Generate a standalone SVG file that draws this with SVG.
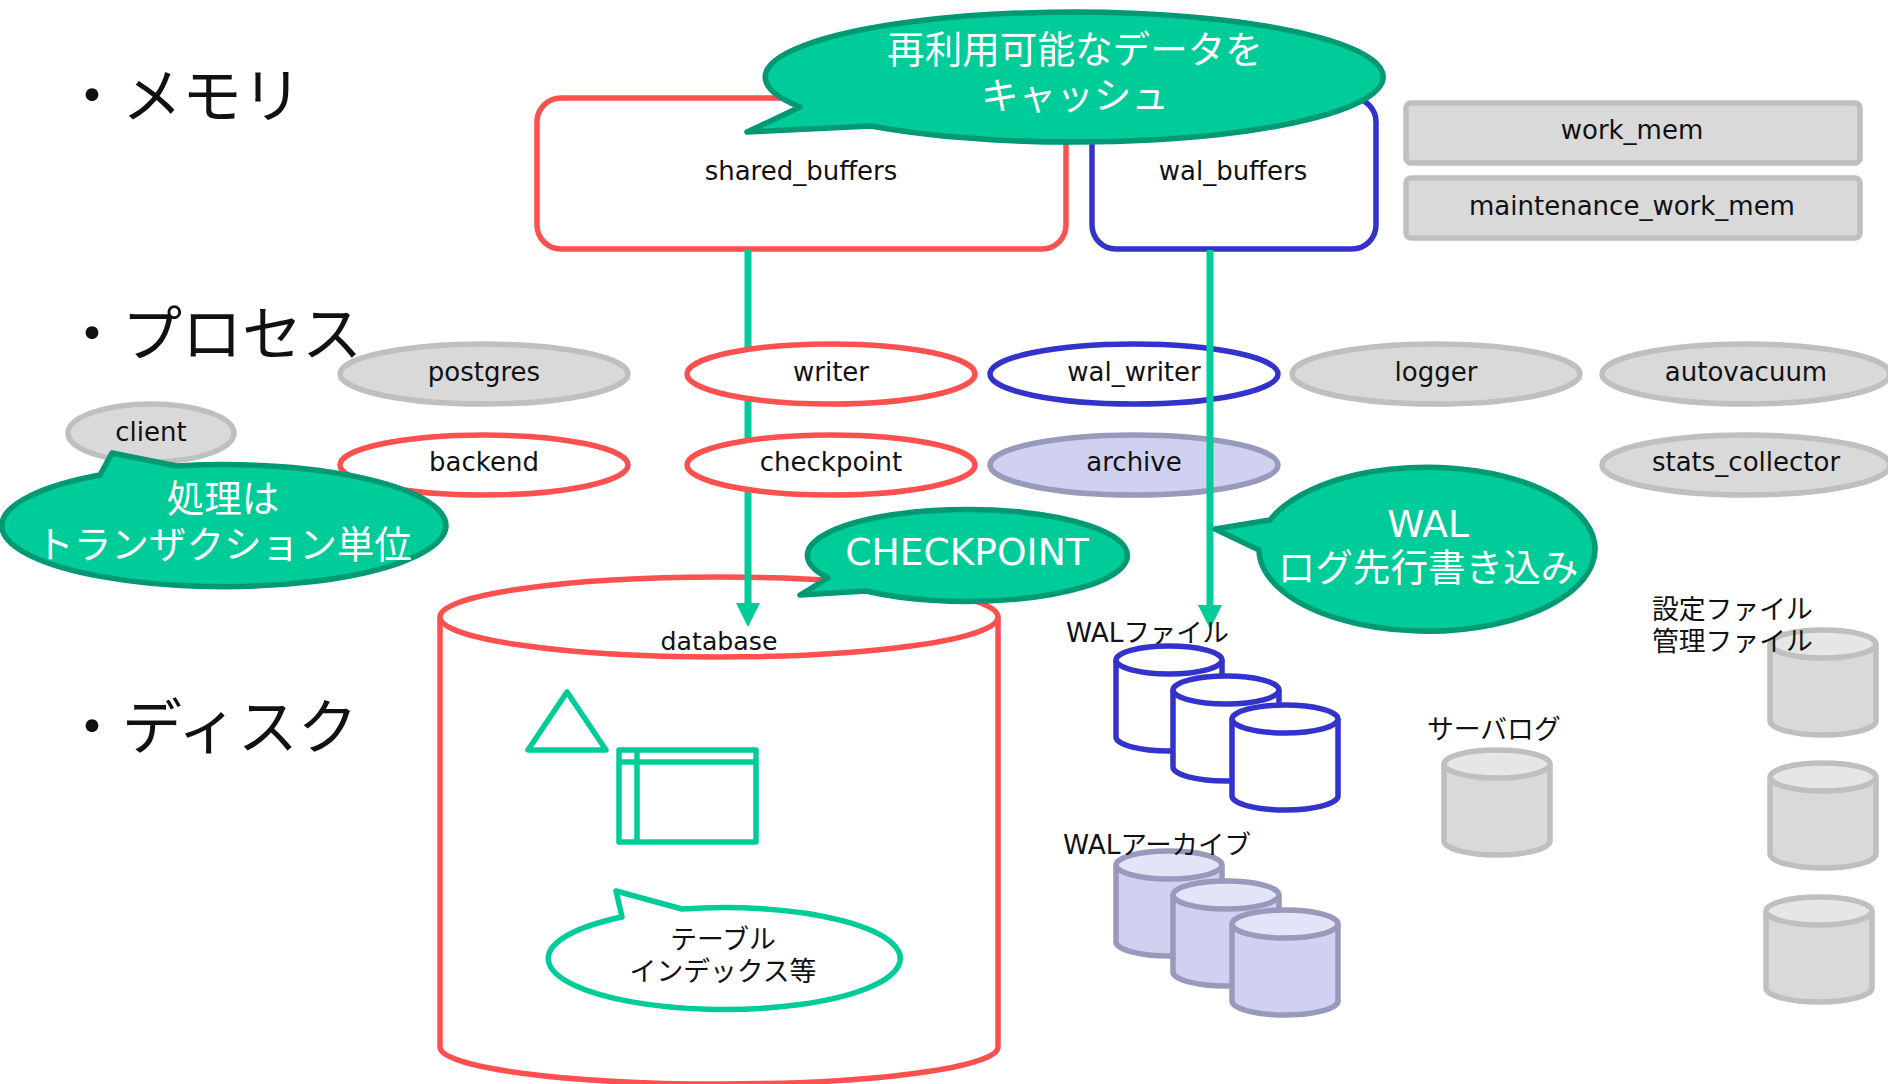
<svg xmlns="http://www.w3.org/2000/svg" width="1888" height="1084" viewBox="0 0 1888 1084">
<style>
text{font-family:"DejaVu Sans","Noto Sans CJK JP",sans-serif;fill:#111;font-size:26px}
.jp{font-family:"Noto Sans CJK JP",sans-serif;font-size:26.8px}
.m{text-anchor:middle}
.mix{font-size:26.4px}
.title{font-family:"Noto Sans CJK JP",sans-serif;font-size:60px}
.w{fill:#fff;font-size:37.6px;text-anchor:middle}
.red{fill:#fff;stroke:#ff5050;stroke-width:5.5}
.blue{fill:#fff;stroke:#3333cc;stroke-width:5.5}
.gray{fill:#d9d9d9;stroke:#bfbfbf;stroke-width:5.5}
.arch{fill:#d0d0f0;stroke:#9999bb;stroke-width:5.5}
.call{fill:#00cc99;stroke:#009973;stroke-width:5.5;stroke-linejoin:round}
.out{fill:#fff;stroke:#00cc99;stroke-width:5.5;stroke-linejoin:round}
.tbl{fill:none;stroke:#00cc99;stroke-width:5.5;stroke-linejoin:round}
.conn{stroke:#00cc99;stroke-width:7;fill:none}
.t2{fill:#e6e6e6}.t3{fill:#e4e4f8}
</style>
<defs>
<path id="body" d="M0 14V91A53 14 0 0 0 106 91V14"/>
<marker id="arr" markerUnits="userSpaceOnUse" markerWidth="26" markerHeight="26" refX="0" refY="13" orient="auto"><path d="M0 1L24 13L0 25Z" fill="#00cc99"/></marker>
</defs>

<g id="title-memory"><text class="title" x="62" y="118">・メモリ</text></g>
<g id="title-process"><text class="title" x="62" y="356">・プロセス</text></g>
<g id="title-disk"><text class="title" x="62" y="749">・ディスク</text></g>

<g id="shared_buffers"><rect class="red" x="537" y="98" width="529" height="151" rx="24"/><text class="m" x="801" y="180">shared_buffers</text></g>
<g id="wal_buffers"><rect class="blue" x="1092" y="98" width="284" height="151" rx="24"/><text class="m" x="1233" y="180">wal_buffers</text></g>
<g id="work_mem"><rect class="gray" x="1406" y="103" width="454" height="60" rx="5"/><text class="m" x="1632" y="139">work_mem</text></g>
<g id="maintenance_work_mem"><rect class="gray" x="1406" y="178" width="454" height="60" rx="5"/><text class="m" x="1632" y="215">maintenance_work_mem</text></g>

<g id="database">
<path class="red" d="M440 617V1047A279 37 0 0 0 998 1047V617"/>
<ellipse class="red" cx="719" cy="617" rx="279" ry="40"/>
<text class="m" x="719" y="650" style="font-size:25.2px">database</text>
</g>
<g id="index-shape"><path class="tbl" d="M567 692L528 750H606Z"/></g>
<g id="table-shape"><rect class="tbl" x="619" y="750" width="137" height="92"/><path class="tbl" d="M619 762H756M637 750V842"/></g>

<g id="wal_writer"><ellipse class="blue" cx="1134" cy="374" rx="144" ry="30"/><text class="m" x="1134" y="381">wal_writer</text></g>
<g id="archive"><ellipse class="arch" cx="1134" cy="465" rx="144" ry="30"/><text class="m" x="1134" y="471">archive</text></g>

<g id="connectors">
<path class="conn" d="M748 250V603" marker-end="url(#arr)"/>
<path class="conn" d="M1210 250V605" marker-end="url(#arr)"/>
</g>

<g id="postgres"><ellipse class="gray" cx="484" cy="374" rx="144" ry="30"/><text class="m" x="484" y="381">postgres</text></g>
<g id="writer"><ellipse class="red" cx="831" cy="374" rx="144" ry="30"/><text class="m" x="831" y="381">writer</text></g>
<g id="logger"><ellipse class="gray" cx="1436" cy="374" rx="144" ry="30"/><text class="m" x="1436" y="381">logger</text></g>
<g id="autovacuum"><ellipse class="gray" cx="1746" cy="374" rx="144" ry="30"/><text class="m" x="1746" y="381">autovacuum</text></g>
<g id="client"><ellipse class="gray" cx="151" cy="433" rx="83" ry="29"/><text class="m" x="151" y="441">client</text></g>
<g id="backend"><ellipse class="red" cx="484" cy="465" rx="144" ry="30"/><text class="m" x="484" y="471">backend</text></g>
<g id="checkpoint"><ellipse class="red" cx="831" cy="465" rx="144" ry="30"/><text class="m" x="831" y="471">checkpoint</text></g>
<g id="stats_collector"><ellipse class="gray" cx="1746" cy="465" rx="144" ry="30"/><text class="m" x="1746" y="471">stats_collector</text></g>

<g id="wal-files">
<text class="mix" x="1066" y="642">WALファイル</text>
<g class="blue" transform="translate(1116,646)"><use href="#body"/><ellipse cx="53" cy="14" rx="53" ry="14"/></g>
<g class="blue" transform="translate(1173,676)"><use href="#body"/><ellipse cx="53" cy="14" rx="53" ry="14"/></g>
<g class="blue" transform="translate(1232,705)"><use href="#body"/><ellipse cx="53" cy="14" rx="53" ry="14"/></g>
</g>
<g id="wal-archive">
<g class="arch" transform="translate(1116,851)"><use href="#body"/><ellipse class="t3" cx="53" cy="14" rx="53" ry="14"/></g>
<g class="arch" transform="translate(1173,881)"><use href="#body"/><ellipse class="t3" cx="53" cy="14" rx="53" ry="14"/></g>
<g class="arch" transform="translate(1232,910)"><use href="#body"/><ellipse class="t3" cx="53" cy="14" rx="53" ry="14"/></g>
<text class="mix" x="1063" y="854">WALアーカイブ</text>
</g>
<g id="server-log">
<text class="jp" x="1427" y="739">サーバログ</text>
<g class="gray" transform="translate(1444,750)"><use href="#body"/><ellipse class="t2" cx="53" cy="14" rx="53" ry="14"/></g>
</g>
<g id="config-files">
<g class="gray" transform="translate(1770,630)"><use href="#body"/><ellipse class="t2" cx="53" cy="14" rx="53" ry="14"/></g>
<g class="gray" transform="translate(1770,763)"><use href="#body"/><ellipse class="t2" cx="53" cy="14" rx="53" ry="14"/></g>
<g class="gray" transform="translate(1766,897)"><use href="#body"/><ellipse class="t2" cx="53" cy="14" rx="53" ry="14"/></g>
<text class="jp" x="1652" y="619">設定ファイル</text>
<text class="jp" x="1652" y="651">管理ファイル</text>
</g>

<g id="callout-table"><path class="out" d="M622 917L616 891L682 909A176 51 0 1 1 622 917Z"/><text class="jp m" x="723" y="949">テーブル</text><text class="jp m" x="723" y="981">インデックス等</text></g>
<g id="callout-cache"><path class="call" d="M800 107L747 132L871 126A309 65 0 1 0 800 107Z"/><text class="w jp" x="1075" y="63" style="font-size:37.6px">再利用可能なデータを</text><text class="w jp" x="1075" y="109" style="font-size:37.6px">キャッシュ</text></g>
<g id="callout-transaction"><path class="call" d="M100 475L112 453L177 466A222 61 0 1 1 100 475Z"/><text class="w jp" x="223" y="512" style="font-size:37.6px">処理は</text><text class="w jp" x="224" y="558" style="font-size:37.6px">トランザクション単位</text></g>
<g id="callout-checkpoint"><path class="call" d="M828 578L800 595L866 591A160 46 0 1 0 828 578Z"/><text class="w" x="967" y="565">CHECKPOINT</text></g>
<g id="callout-wal"><path class="call" d="M1270 520L1215 529L1259 550A168 82 0 1 0 1270 520Z"/><text class="w" x="1428" y="537">WAL</text><text class="w jp" x="1428" y="581" style="font-size:37.6px">ログ先行書き込み</text></g>
</svg>
